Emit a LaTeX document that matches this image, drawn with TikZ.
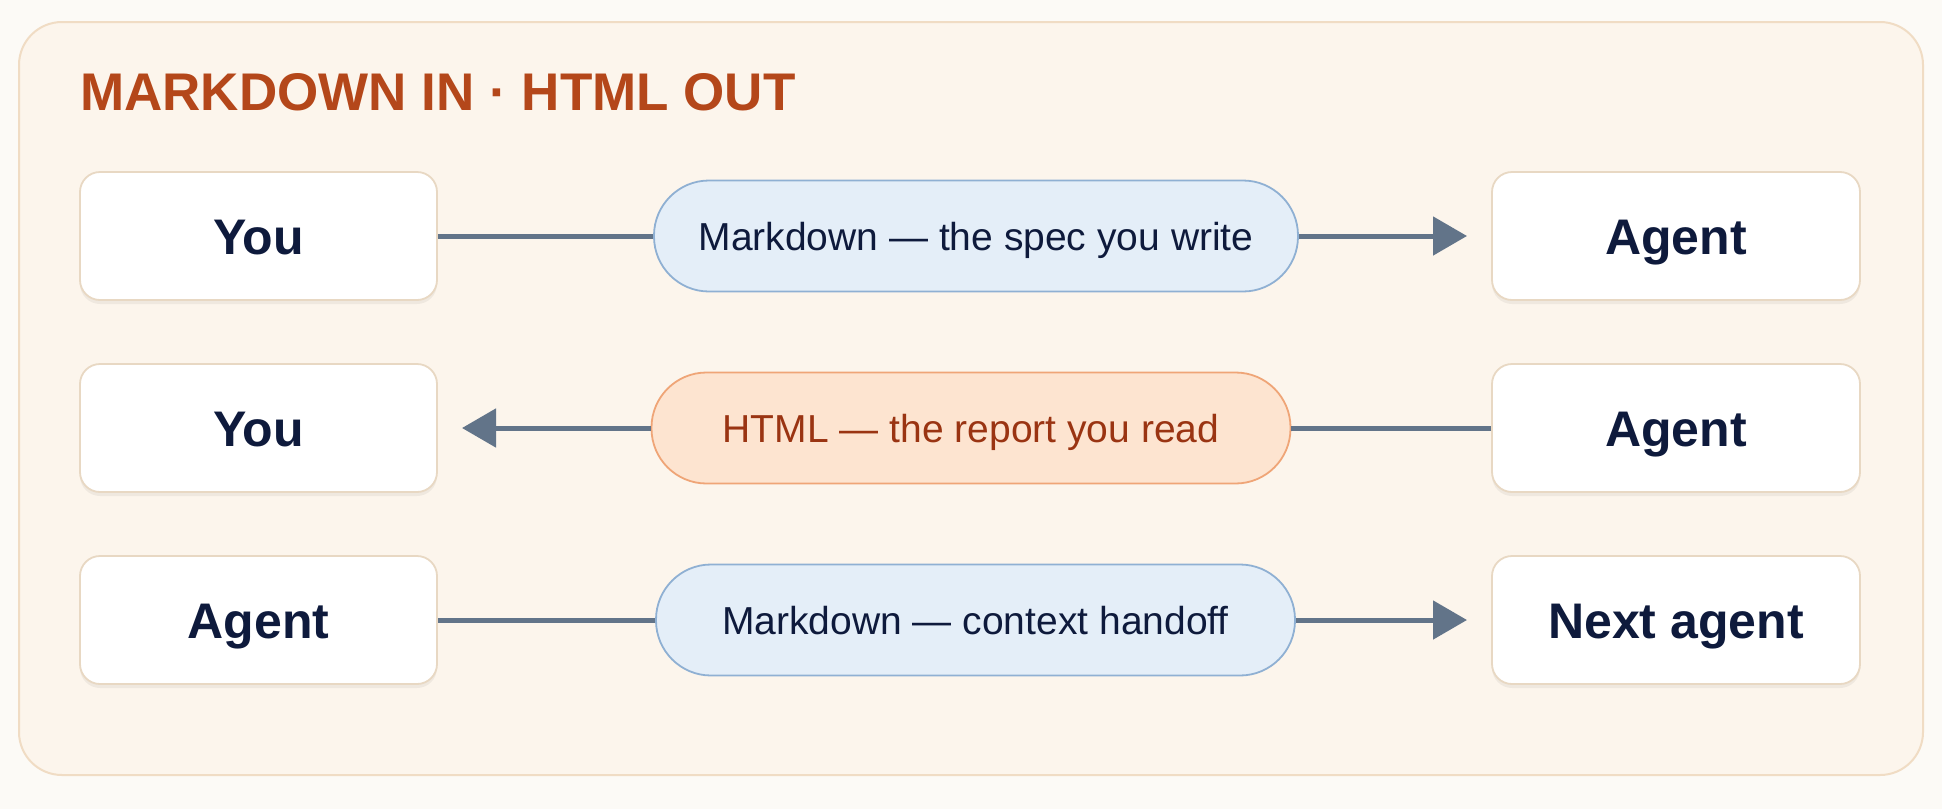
\documentclass[tikz,border=0pt]{standalone}
\usepackage{fontspec}
\setmainfont{Liberation Sans}
\usetikzlibrary{shadows,arrows.meta}
\definecolor{pagebg}{HTML}{FCFAF6}
\definecolor{panelfill}{HTML}{FCF5EC}
\definecolor{paneldraw}{HTML}{F0DCC4}
\definecolor{titlecol}{HTML}{B4471A}
\definecolor{navy}{HTML}{0E1A3C}
\definecolor{rust}{HTML}{9A3412}
\definecolor{boxdraw}{HTML}{E8D8C3}
\definecolor{bluefill}{HTML}{E4EEF8}
\definecolor{bluedraw}{HTML}{8FB0D3}
\definecolor{orfill}{HTML}{FDE4D0}
\definecolor{ordraw}{HTML}{EFA577}
\definecolor{slate}{HTML}{627489}
\tikzset{
  panel/.style={fill=panelfill,draw=paneldraw,line width=2pt,rounded corners=43pt},
  titletext/.style={text=titlecol,font=\fontsize{53}{64}\selectfont\bfseries,inner sep=0pt},
  actor/.style={fill=white,draw=boxdraw,line width=1.8pt,rounded corners=20pt,
    minimum height=128pt,text=navy,font=\fontsize{50}{60}\selectfont\bfseries,
    text height=36pt,text depth=0pt,inner sep=0pt,
    drop shadow={shadow xshift=0pt,shadow yshift=-4pt,opacity=0.05,fill=black}},
  leftactor/.style={actor,minimum width=357pt},
  rightactor/.style={actor,minimum width=368pt},
  pill/.style={rounded corners=55pt,line width=1.8pt,minimum height=111pt,
    font=\fontsize{39}{47}\selectfont,text height=28pt,text depth=0pt,inner sep=0pt},
  bluepill/.style={pill,fill=bluefill,draw=bluedraw,text=navy},
  orpill/.style={pill,fill=orfill,draw=ordraw,text=rust},
  conn/.style={draw=slate,line width=5pt},
  arrowend/.style={conn,-{Triangle[length=34pt,width=38pt]}}
}
\begin{document}
\begin{tikzpicture}[x=1pt,y=-1pt]
\useasboundingbox (0,0) rectangle (1942,809);
\fill[pagebg] (0,0) rectangle (1942,809);
\draw[panel] (19,22) rectangle (1923,775);
\node[titletext,anchor=base west] (title) at (80,110) {MARKDOWN IN · HTML OUT};

% row 1
\node[leftactor] (you1) at (258.5,236) {You};
\node[rightactor] (agent1) at (1676,236) {Agent};
\node[bluepill,minimum width=644pt] (p1) at (976,236) {Markdown — the spec you write};
\coordinate (t1) at (1467,236);
\draw[conn] (you1.east) -- (p1.west);
\draw[arrowend] (p1.east) -- (t1);

% row 2
\node[leftactor] (you2) at (258.5,428) {You};
\node[rightactor] (agent2) at (1676,428) {Agent};
\node[orpill,minimum width=639pt] (p2) at (971,428) {HTML — the report you read};
\coordinate (t2) at (462,428);
\draw[conn] (agent2.west) -- (p2.east);
\draw[arrowend] (p2.west) -- (t2);

% row 3
\node[leftactor] (agent3) at (258.5,620) {Agent};
\node[rightactor] (next3) at (1676,620) {Next agent};
\node[bluepill,minimum width=639pt] (p3) at (975.5,620) {Markdown — context handoff};
\coordinate (t3) at (1467,620);
\draw[conn] (agent3.east) -- (p3.west);
\draw[arrowend] (p3.east) -- (t3);
\end{tikzpicture}
\end{document}
